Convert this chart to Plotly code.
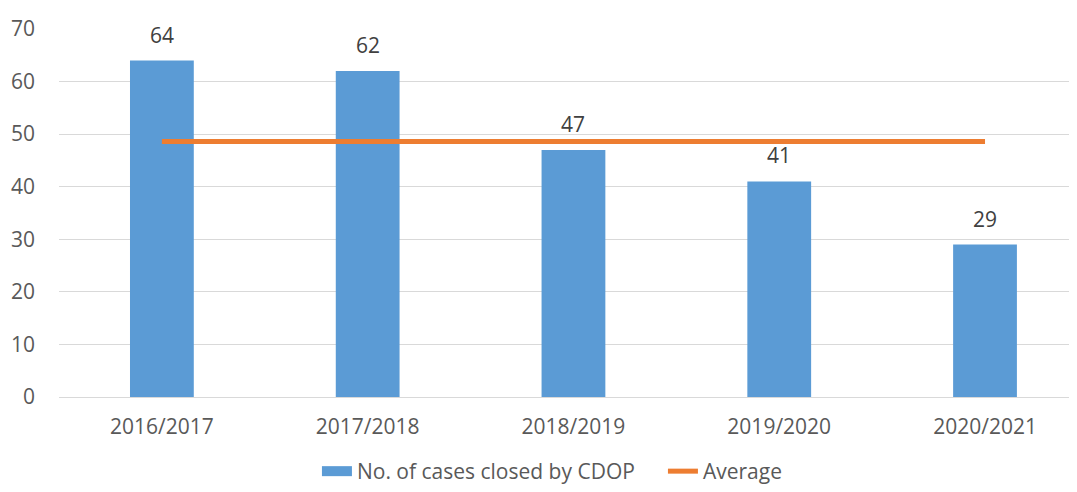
import plotly.graph_objects as go

categories = ["2016/2017", "2017/2018", "2018/2019", "2019/2020", "2020/2021"]
cases_closed = [64, 62, 47, 41, 29]
average_value = sum(cases_closed) / len(cases_closed)
average_line = [average_value] * len(categories)
y_ticks = [0, 10, 20, 30, 40, 50, 60, 70]

FONT = "'Open Sans', Lato, sans-serif"
TXT = "#595959"
BLUE = "#5B9BD5"
FS = 21

fig = go.Figure()
fig.add_trace(go.Bar(
    x=categories, y=cases_closed, name="No. of cases closed by CDOP",
    marker=dict(color=BLUE, line=dict(width=0)), width=0.31, showlegend=False,
))
# legend entry with a wide rectangle swatch like the original
fig.add_trace(go.Scatter(
    x=[None], y=[None], mode="lines", name="No. of cases closed by CDOP",
    line=dict(color=BLUE, width=14),
))
fig.add_trace(go.Scatter(
    x=categories, y=average_line, name="Average", mode="lines",
    line=dict(color="#ED7D31", width=5),
))
for c, v in zip(categories, cases_closed):
    fig.add_annotation(x=c, y=v, text=str(v), showarrow=False, yanchor="bottom",
                       yshift=10, font=dict(size=FS, color="#404040", family=FONT))

fig.update_layout(
    width=1069, height=484,
    margin=dict(l=51, r=0, t=21, b=95, autoexpand=False),
    plot_bgcolor="white", paper_bgcolor="white",
    font=dict(family=FONT, size=FS, color=TXT),
    bargap=0.69,
    showlegend=True,
    legend=dict(orientation="h", xref="container", x=0.289, xanchor="left",
                yref="container", y=-0.006, yanchor="bottom",
                entrywidth=301, entrywidthmode="pixels",
                font=dict(size=FS, color=TXT), traceorder="normal"),
)
fig.update_xaxes(type="category", range=[-0.5, 4.447], showgrid=False, showline=False,
                 ticks="", ticklabelstandoff=15, tickfont=dict(size=FS, color=TXT))
fig.update_yaxes(range=[0, 70], tickvals=y_ticks, showgrid=True, gridcolor="#D9D9D9",
                 gridwidth=1, zeroline=True, zerolinecolor="#D9D9D9", zerolinewidth=1,
                 showline=False, ticks="", ticklabelstandoff=23,
                 tickfont=dict(size=FS, color=TXT))

fig.write_html("out.html")
